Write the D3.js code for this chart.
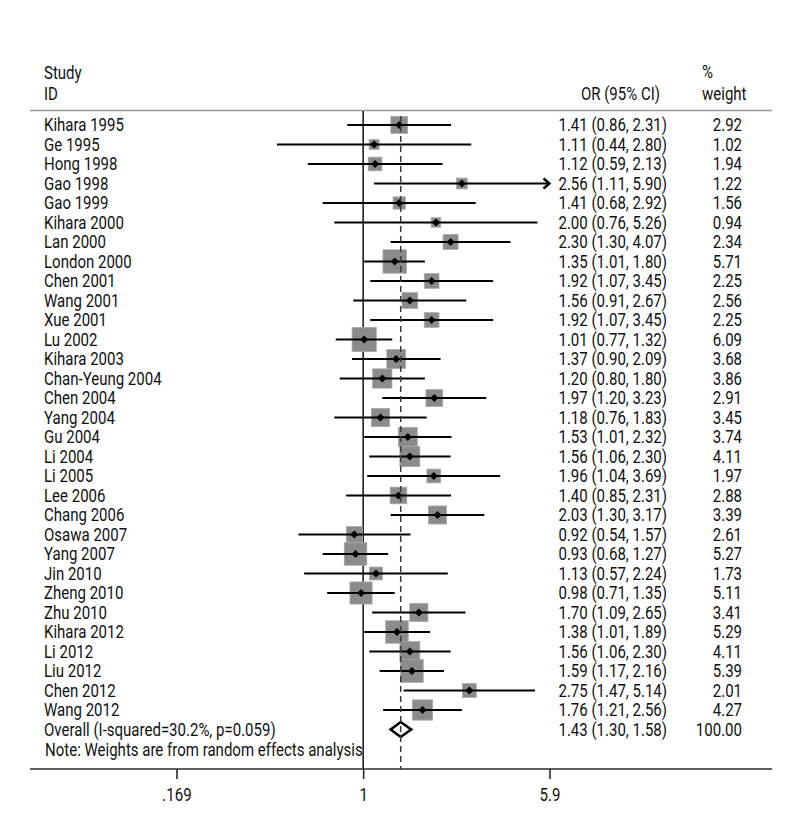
<!DOCTYPE html>
<html>
<head>
<meta charset="utf-8">
<script src="https://cdn.jsdelivr.net/npm/d3@7"></script>
<style>
  html, body { margin: 0; padding: 0; background: #fff; }
  svg { display: block; }
</style>
</head>
<body>
<svg id="chart" width="800" height="840"></svg>
<script>
// ---------- data ----------
const studies = ["Kihara 1995","Ge 1995","Hong 1998","Gao 1998","Gao 1999","Kihara 2000","Lan 2000","London 2000","Chen 2001","Wang 2001","Xue 2001","Lu 2002","Kihara 2003","Chan-Yeung 2004","Chen 2004","Yang 2004","Gu 2004","Li 2004","Li 2005","Lee 2006","Chang 2006","Osawa 2007","Yang 2007","Jin 2010","Zheng 2010","Zhu 2010","Kihara 2012","Li 2012","Liu 2012","Chen 2012","Wang 2012"];
const orValues = [1.41,1.11,1.12,2.56,1.41,2.00,2.30,1.35,1.92,1.56,1.92,1.01,1.37,1.20,1.97,1.18,1.53,1.56,1.96,1.40,2.03,0.92,0.93,1.13,0.98,1.70,1.38,1.56,1.59,2.75,1.76];
const ciLower = [0.86,0.44,0.59,1.11,0.68,0.76,1.30,1.01,1.07,0.91,1.07,0.77,0.90,0.80,1.20,0.76,1.01,1.06,1.04,0.85,1.30,0.54,0.68,0.57,0.71,1.09,1.01,1.06,1.17,1.47,1.21];
const ciUpper = [2.31,2.80,2.13,5.90,2.92,5.26,4.07,1.80,3.45,2.67,3.45,1.32,2.09,1.80,3.23,1.83,2.32,2.30,3.69,2.31,3.17,1.57,1.27,2.24,1.35,2.65,1.89,2.30,2.16,5.14,2.56];
const weights = [2.92,1.02,1.94,1.22,1.56,0.94,2.34,5.71,2.25,2.56,2.25,6.09,3.68,3.86,2.91,3.45,3.74,4.11,1.97,2.88,3.39,2.61,5.27,1.73,5.11,3.41,5.29,4.11,5.39,2.01,4.27];
const overallLabel = "Overall (I-squared=30.2%, p=0.059)";
const overallOR = 1.43, overallLo = 1.30, overallHi = 1.58, overallWeight = 100.00;
const noteText = "Note: Weights are from random effects analysis";
const tickValues = [0.169, 1, 5.9];
const tickLabels = [".169", "1", "5.9"];

// ---------- setup ----------
const svg = d3.select("#chart");
const FONT = "'Liberation Sans Narrow', Roboto, 'Liberation Sans', sans-serif";
const FS = 18;
const ink = "#111";

// calibrate horizontal compression so the note spans ~318px
const probe = svg.append("text").attr("font-family", FONT).attr("font-size", FS).text(noteText);
const sx = 318 / probe.node().getComputedTextLength();
probe.remove();

function txt(x, y, s, anchor) {
  return svg.append("text")
    .attr("transform", `translate(${x},${y}) scale(${sx},1)`)
    .attr("font-family", FONT).attr("font-size", FS)
    .attr("fill", ink)
    .attr("text-anchor", anchor || "start")
    .text(s);
}

const x = d3.scaleLog().domain([0.169, 5.9]).range([176.5, 549.5]);
const y = d3.scaleLinear().domain([0, 32]).range([125, 749]);
const boxScale = d3.scaleSqrt().domain([0, 1]).range([0, 9.8]);
const axisY = 769;
const xMax = x.range()[1];

// ---------- headers ----------
txt(44, 78.5, "Study");
txt(44, 100, "ID");
txt(660, 100, "OR (95% CI)", "end");
txt(702, 77.5, "%");
txt(702, 100, "weight");

svg.append("line").attr("x1", 30).attr("x2", 772).attr("y1", 110.5).attr("y2", 110.5)
  .attr("stroke", "#9a9a9a").attr("stroke-width", 1.6);

// ---------- reference line at 1 ----------
svg.append("line").attr("x1", x(1)).attr("x2", x(1)).attr("y1", 111).attr("y2", axisY)
  .attr("stroke", ink).attr("stroke-width", 1.5);

// ---------- study rows ----------
const rows = svg.append("g");
studies.forEach((name, i) => {
  const cy = y(i);
  const side = boxScale(weights[i]);
  rows.append("rect")
    .attr("x", x(orValues[i]) - side / 2).attr("y", cy - side / 2)
    .attr("width", side).attr("height", side)
    .attr("fill", "#8b8b8b").attr("stroke", "#a8a8a8").attr("stroke-width", 0.8);
  const xe = Math.min(x(ciUpper[i]), xMax);
  rows.append("line").attr("x1", x(ciLower[i])).attr("x2", xe).attr("y1", cy).attr("y2", cy)
    .attr("stroke", "#000").attr("stroke-width", 2);
  if (ciUpper[i] >= 5.9) {
    rows.append("path")
      .attr("d", `M${xe - 6},${cy - 5}L${xe},${cy}L${xe - 6},${cy + 5}`)
      .attr("fill", "none").attr("stroke", "#000").attr("stroke-width", 2.4);
  }
  const px = x(orValues[i]);
  rows.append("path")
    .attr("d", `M${px - 4},${cy}L${px},${cy - 4}L${px + 4},${cy}L${px},${cy + 4}Z`)
    .attr("fill", "#000");

  txt(44, cy + 6, name);
  txt(667, cy + 6, `${orValues[i].toFixed(2)} (${ciLower[i].toFixed(2)}, ${ciUpper[i].toFixed(2)})`, "end");
  txt(742, cy + 6, weights[i].toFixed(2), "end");
});

// ---------- overall ----------
const oy = y(31);
svg.append("path")
  .attr("d", `M${x(overallLo)},${oy}L${x(overallOR)},${oy - 7.5}L${x(overallHi)},${oy}L${x(overallOR)},${oy + 7.5}Z`)
  .attr("fill", "#fff").attr("stroke", "#000").attr("stroke-width", 2.6).attr("stroke-linejoin", "miter");
svg.append("line").attr("x1", x(overallOR)).attr("x2", x(overallOR)).attr("y1", y(0) - 9).attr("y2", axisY)
  .attr("stroke", "#3a3a3a").attr("stroke-width", 1.5).attr("stroke-dasharray", "6,4");
txt(44, oy + 6, overallLabel);
txt(667, oy + 6, `${overallOR.toFixed(2)} (${overallLo.toFixed(2)}, ${overallHi.toFixed(2)})`, "end");
txt(742, oy + 6, overallWeight.toFixed(2), "end");

txt(45, y(32) + 7, noteText);

// ---------- axis ----------
svg.append("line").attr("x1", 30).attr("x2", 772).attr("y1", axisY).attr("y2", axisY)
  .attr("stroke", "#2a2a2a").attr("stroke-width", 1.6);
const axis = d3.axisBottom(x).tickValues(tickValues)
  .tickFormat((d, i) => tickLabels[i]).tickSize(10).tickPadding(9);
const ag = svg.append("g").attr("transform", `translate(0,${axisY})`).call(axis);
ag.select(".domain").remove();
ag.selectAll(".tick line").attr("stroke", "#2a2a2a").attr("stroke-width", 1.6);
ag.selectAll(".tick text")
  .attr("font-family", FONT).attr("font-size", FS).attr("fill", ink)
  .attr("transform", `scale(${sx},1)`);
</script>
</body>
</html>
